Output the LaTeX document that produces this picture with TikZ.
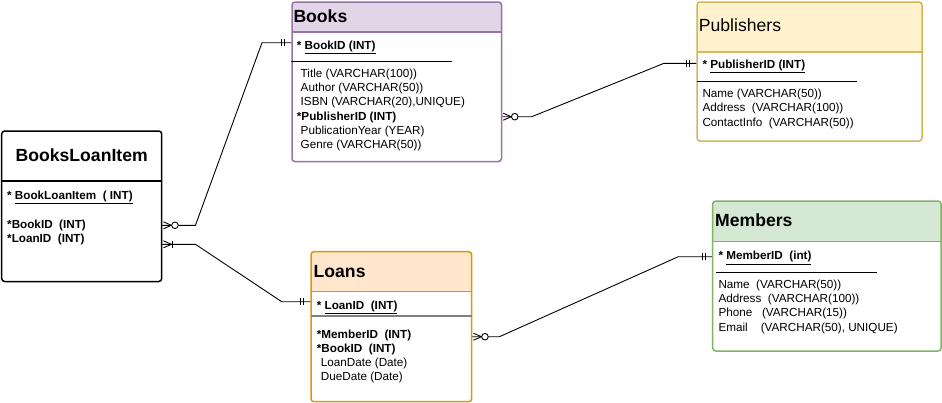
\documentclass[tikz,border=0pt]{standalone}
\usepackage{fontspec}
\setmainfont{Liberation Sans}
\usepackage{tikz}

\definecolor{bookfill}{HTML}{E1D5E7}
\definecolor{bookline}{HTML}{9673A6}
\definecolor{pubfill}{HTML}{FFF2CC}
\definecolor{publine}{HTML}{D6B656}
\definecolor{loanfill}{HTML}{FFE6CC}
\definecolor{loanline}{HTML}{D79B00}
\definecolor{memfill}{HTML}{D5E8D4}
\definecolor{memline}{HTML}{82B366}

\tikzset{
  entity/.style n args={5}{draw=#1, fill=white, line width=1.5pt, rounded corners=3pt,
    inner sep=0pt, minimum width=#3, minimum height=#4,
    path picture={
      \fill[#2, sharp corners] (path picture bounding box.north west) rectangle ([yshift=-#5]path picture bounding box.north east);
      \draw[#1, line width=1.5pt, sharp corners] ([yshift=-#5]path picture bounding box.north west) -- ([yshift=-#5]path picture bounding box.north east);
    }},
  head/.style={anchor=west, inner sep=0pt, text height=12.6pt, text depth=0pt, font=\fontsize{17.6}{20}\selectfont\bfseries},
  row/.style={anchor=west, inner sep=0pt, text height=8.4pt, text depth=0pt, font=\fontsize{11.7}{14}\selectfont},
  link/.style={line width=0.9pt},
  zeromany/.pic={\draw[link] (1,-3.5) -- (9,0) -- (1,3.5); \draw[link, fill=white] (12.5,0) circle (3.3);},
  onemany/.pic={\draw[link] (1,-3.5) -- (9,0) -- (1,3.5); \draw[link] (10,-3.5) -- (10,3.5);},
  onlyone/.pic={\draw[link] (6.5,-3.5) -- (6.5,3.5); \draw[link] (9.5,-3.5) -- (9.5,3.5);}
}

\begin{document}
\begin{tikzpicture}[x=1pt, y=-1pt]
    \useasboundingbox (0,0) rectangle (942,402);

    %Entities
    \node[entity={bookline}{bookfill}{209.5}{159.5}{30}] (books) at (396.75,81.75) {};
    \node[entity={publine}{pubfill}{225}{139}{50}] (pubs) at (809.5,71.5) {};
    \node[entity={black}{white}{160}{150.5}{50}] (bli) at (81.7,206.25) {};
    \node[entity={loanline}{loanfill}{160.7}{150}{40}] (loans) at (391.35,326.7) {};
    \node[entity={memline}{memfill}{228.3}{150}{40.7}] (mems) at (826.85,276) {};

    %Key separators
    \draw[line width=0.9pt] (291,61) -- (452,61);
    \draw[line width=0.9pt] (697,81) -- (857,81);
    \draw[line width=1.5pt, gray] (311,316) -- (471.7,316);
    \draw[line width=0.9pt] (716,272) -- (877,272);

    %Books
    \node[head] (bkHead) at (293.3,16) {Books};
    \node[row] (bkKey) at (296.7,45) {\bfseries * \underline{BookID (INT)}};
    \node[row] (bkTitle) at (300.5,73) {Title (VARCHAR(100))};
    \node[row] (bkAuthor) at (300.5,87.3) {Author (VARCHAR(50))};
    \node[row] (bkIsbn) at (300.5,101.7) {ISBN (VARCHAR(20),UNIQUE)};
    \node[row] (bkPub) at (296.7,116) {\bfseries *PublisherID (INT)};
    \node[row] (bkYear) at (300.5,130.3) {PublicationYear (YEAR)};
    \node[row] (bkGenre) at (300.5,144.7) {Genre (VARCHAR(50))};

    %Publishers
    \node[head, font=\fontsize{17.6}{20}\selectfont] (pbHead) at (698.7,25) {Publishers};
    \node[row] (pbKey) at (702.3,64) {\bfseries * \underline{PublisherID (INT)}};
    \node[row] (pbName) at (702.3,93.7) {Name (VARCHAR(50))};
    \node[row] (pbAddr) at (702.3,107.7) {Address\ \ (VARCHAR(100))};
    \node[row] (pbInfo) at (702.3,122) {ContactInfo\ \ (VARCHAR(50))};

    %BooksLoanItem
    \node[head, anchor=center] (bliHead) at (81.7,155.5) {BooksLoanItem};
    \node[row] (bliKey) at (7,195) {\bfseries * \underline{BookLoanItem\ \ ( INT)}};
    \node[row] (bliBook) at (7,224) {\bfseries *BookID\ \ (INT)};
    \node[row] (bliLoan) at (7,238) {\bfseries *LoanID\ \ (INT)};

    %Loans
    \node[head] (lnHead) at (313.5,270.8) {Loans};
    \node[row] (lnKey) at (316.7,305) {\bfseries * \underline{LoanID\ \ (INT)}};
    \node[row] (lnMember) at (316.7,334) {\bfseries *MemberID\ \ (INT)};
    \node[row] (lnBook) at (316.7,348) {\bfseries *BookID\ \ (INT)};
    \node[row] (lnDate) at (320.7,362.7) {LoanDate (Date)};
    \node[row] (lnDue) at (320.7,376.7) {DueDate (Date)};

    %Members
    \node[head] (mbHead) at (715,220.3) {Members};
    \node[row] (mbKey) at (718.3,255.7) {\bfseries * \underline{MemberID\ \ (int)}};
    \node[row] (mbName) at (718.3,284) {Name\ \ (VARCHAR(50))};
    \node[row] (mbAddr) at (718.3,298) {Address\ \ (VARCHAR(100))};
    \node[row] (mbPhone) at (718.3,312.7) {Phone\ \ \ (VARCHAR(15))};
    \node[row] (mbEmail) at (718.3,327) {Email\ \ \ \ (VARCHAR(50), UNIQUE)};

    %Relations
    \draw[link] (bli.east |- 0,225.3) -- ++(33,0) -- (262,42.7) -- (books.west |- 0,42.7);
    \pic at (bli.east |- 0,225.3) {zeromany};
    \pic[rotate=180] at (books.west |- 0,42.7) {onlyone};

    \draw[link] (books.east |- 0,116.7) -- ++(29.5,0) -- (664,63.3) -- (pubs.west |- 0,63.3);
    \pic at (books.east |- 0,116.7) {zeromany};
    \pic[rotate=180] at (pubs.west |- 0,63.3) {onlyone};

    \draw[link] (bli.east |- 0,244.3) -- ++(33,0) -- (281.7,301.7) -- (loans.west |- 0,301.7);
    \pic at (bli.east |- 0,244.3) {onemany};
    \pic[rotate=180] at (loans.west |- 0,301.7) {onlyone};

    \draw[link] (loans.east |- 0,336.7) -- ++(27,0) -- (678.3,256.7) -- (mems.west |- 0,256.7);
    \pic at (loans.east |- 0,336.7) {zeromany};
    \pic[rotate=180] at (mems.west |- 0,256.7) {onlyone};

\end{tikzpicture}
\end{document}
